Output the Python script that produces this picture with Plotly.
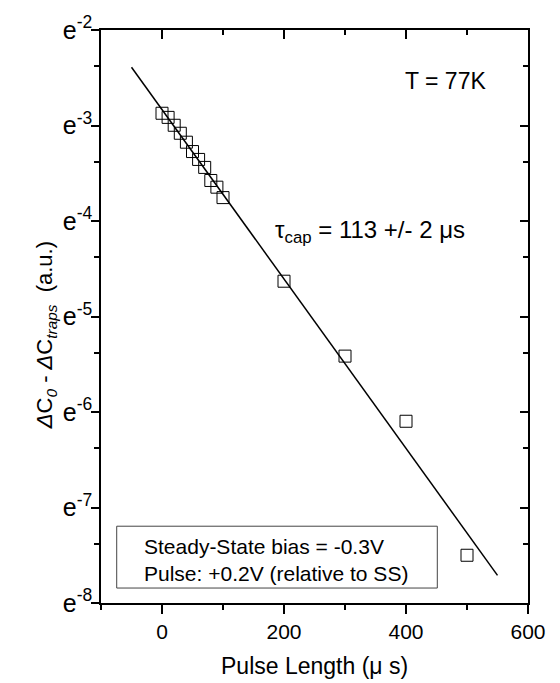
import numpy as np
import plotly.graph_objects as go

# Data
pulse_us = [0, 10, 20, 30, 40, 50, 60, 70, 80, 90, 100, 200, 300, 400, 500]
delta_c = [0.0566, 0.0542, 0.0499, 0.0459, 0.0418, 0.0379, 0.0349, 0.0321,
           0.0280, 0.0261, 0.0234, 0.00975, 0.00445, 0.00225, 0.000553]
fit_x = [-50, 550]
fit_y = [0.0916, 0.000448]

x_major = [0, 200, 400, 600]
x_minor = [-100, 100, 300, 500]
y_exps = [-2, -3, -4, -5, -6, -7, -8]
y_major = [float(np.exp(k)) for k in y_exps]
y_labels = [f"e<sup>{k}</sup>" for k in y_exps]
y_minor = [float((np.exp(k) + np.exp(k - 1)) / 2) for k in y_exps[:-1]]

FONT = "Liberation Sans, Arial, sans-serif"
yrange = [-8 / np.log(10), -2 / np.log(10)]
xrange = [-100, 600]

fig = go.Figure()
fig.add_trace(go.Scatter(x=fit_x, y=fit_y, mode="lines",
                         line=dict(color="black", width=1.5), showlegend=False))
fig.add_trace(go.Scatter(x=pulse_us, y=delta_c, mode="markers",
                         marker=dict(symbol="square-open", size=12,
                                     color="black", line=dict(width=1)),
                         showlegend=False))
# invisible trace to host mirrored (inside) tick axes
fig.add_trace(go.Scatter(x=[None], y=[None], xaxis="x2", yaxis="y2",
                         showlegend=False, hoverinfo="skip"))

axis_common = dict(showgrid=False, zeroline=False, showline=True,
                   linecolor="black", linewidth=1.5, tickcolor="black",
                   tickwidth=1.5)

fig.update_layout(
    width=560, height=683,
    margin=dict(l=101, r=32, t=16, b=80),
    paper_bgcolor="white", plot_bgcolor="white",
    font=dict(family=FONT, size=20, color="black"),
    xaxis=dict(range=xrange, tickmode="array", tickvals=x_major,
               ticks="outside", ticklen=9,
               minor=dict(tickmode="array", tickvals=x_minor, ticks="outside",
                          ticklen=5, tickcolor="black", tickwidth=1.5),
               tickfont=dict(size=21), **axis_common),
    yaxis=dict(type="log", range=yrange, tickmode="array", tickvals=y_major,
               ticktext=y_labels, ticks="outside", ticklen=8,
               ticklabelstandoff=-6, ticklabeloverflow="allow",
               minor=dict(tickmode="array", tickvals=y_minor, ticks="outside",
                          ticklen=5, tickcolor="black", tickwidth=1.5),
               tickfont=dict(size=25), **axis_common),
    xaxis2=dict(range=xrange, overlaying="x", side="top", anchor="y2",
                tickmode="array", tickvals=x_major, ticks="inside", ticklen=9,
                showticklabels=False,
                minor=dict(tickmode="array", tickvals=x_minor, ticks="inside",
                           ticklen=5, tickcolor="black", tickwidth=1.5),
                **axis_common),
    yaxis2=dict(type="log", range=yrange, overlaying="y", side="right",
                anchor="x2", tickmode="array", tickvals=y_major,
                ticks="inside", ticklen=8, showticklabels=False,
                minor=dict(tickmode="array", tickvals=y_minor, ticks="inside",
                           ticklen=5, tickcolor="black", tickwidth=1.5),
                **axis_common),
)

annos = [
    dict(text="T = 77K", x=0.806, y=0.9105, xanchor="center", yanchor="middle",
         font=dict(size=23)),
    dict(text="τ<sub>cap</sub> = 113 +/- 2 μs", x=0.403, y=0.649,
         xanchor="left", yanchor="middle", font=dict(size=24)),
    dict(text="Steady-State bias = -0.3V", x=0.0953, y=0.0988,
         xanchor="left", yanchor="middle", font=dict(size=21)),
    dict(text="Pulse: +0.2V (relative to SS)", x=0.0953, y=0.0516,
         xanchor="left", yanchor="middle", font=dict(size=21)),
    dict(text="Pulse Length (μ s)", x=0.5, y=-0.11, xanchor="center",
         yanchor="middle", font=dict(size=23)),
    dict(text="<i>Δ</i>C<sub><i>0</i></sub> - <i>Δ</i>C<sub><i>traps</i></sub>  (a.u.)",
         x=-0.127, y=0.467, xanchor="center", yanchor="middle",
         textangle=-90, font=dict(size=22)),
]
for a in annos:
    fig.add_annotation(xref="paper", yref="paper", showarrow=False, **a)

fig.add_shape(type="rect", xref="paper", yref="paper",
              x0=0.0368, x1=0.7876, y0=0.0261, y1=0.134,
              line=dict(color="#444444", width=1), fillcolor="rgba(0,0,0,0)")

fig.write_html("out.html")
